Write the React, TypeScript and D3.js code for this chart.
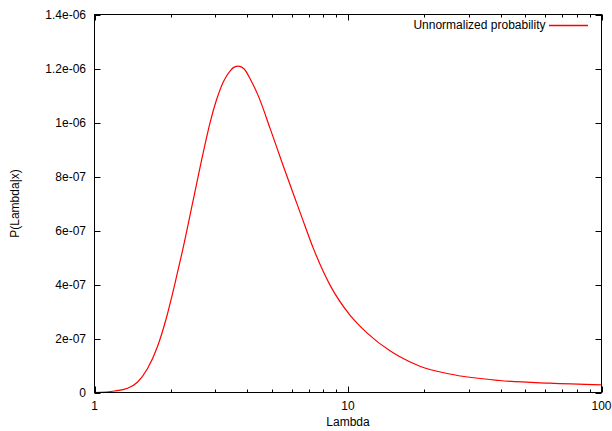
import React from "react";
import * as d3 from "d3";

const lambdas = [1, 1.2, 1.349, 1.477, 1.617, 1.771, 1.916, 2.065, 2.227, 2.446, 2.686, 2.862, 3.021, 3.228, 3.43, 3.557, 3.7, 3.896, 4.114, 4.436, 4.932, 5.564, 6.281, 6.573, 7.3, 8.494, 10.18, 11.85, 14.64, 16.02, 19.21, 25.2, 39.7, 62.4, 100];
const probs = [0, 0.056e-7, 0.159e-7, 0.381e-7, 0.878e-7, 1.693e-7, 2.722e-7, 3.937e-7, 5.274e-7, 7.085e-7, 8.896e-7, 10.026e-7, 10.804e-7, 11.519e-7, 11.915e-7, 12.05e-7, 12.089e-7, 11.98e-7, 11.611e-7, 10.967e-7, 9.774e-7, 8.37e-7, 7.004e-7, 6.496e-7, 5.337e-7, 3.978e-7, 2.867e-7, 2.219e-7, 1.544e-7, 1.322e-7, 0.974e-7, 0.685e-7, 0.444e-7, 0.344e-7, 0.285e-7];
const yTicks = [0, 2e-7, 4e-7, 6e-7, 8e-7, 1e-6, 1.2e-6, 1.4e-6];
const yTickLabels = ["0", "2e-07", "4e-07", "6e-07", "8e-07", "1e-06", "1.2e-06", "1.4e-06"];
const xMajor = [1, 10, 100];
const xMajorLabels = ["1", "10", "100"];
const xMinor = [2, 3, 4, 5, 6, 7, 8, 9, 20, 30, 40, 50, 60, 70, 80, 90];
const seriesName = "Unnormalized probability";

const W = 612, H = 431;
const L = 94.5, R = 601.5, T = 14.5, B = 392.5;
const font = "'Liberation Sans', Arial, Helvetica, sans-serif";

export default function App() {
  const x = d3.scaleLog().domain([1, 100]).range([L, R]);
  const y = d3.scaleLinear().domain([0, 1.4e-6]).range([B, T]);
  const pts: [number, number][] = lambdas.map((l, i) => [x(l), y(probs[i])]);
  const line = d3.line().curve(d3.curveMonotoneX)(pts) || "";
  const maj = 6, min = 3;
  return (
    <div style={{ position: "absolute", left: 0, top: 0 }}>
      <svg width={W} height={H} style={{ display: "block", background: "#fff" }}>
        <path d={line} fill="none" stroke="#ff0000" strokeWidth={1.2} />
        <rect x={L} y={T} width={R - L} height={B - T} fill="none" stroke="#000" strokeWidth={1} />
        {yTicks.map((t, i) => (
          <g key={"y" + i}>
            <line x1={L} x2={L + maj} y1={Math.round(y(t)) + 0.5} y2={Math.round(y(t)) + 0.5} stroke="#000" />
            <line x1={R} x2={R - maj} y1={Math.round(y(t)) + 0.5} y2={Math.round(y(t)) + 0.5} stroke="#000" />
            <text x={86} y={y(t)} dy="0.35em" textAnchor="end" fontFamily={font} fontSize={12} fill="#000">{yTickLabels[i]}</text>
          </g>
        ))}
        {xMajor.map((t, i) => (
          <g key={"x" + i}>
            <line x1={Math.round(x(t)) + 0.5} x2={Math.round(x(t)) + 0.5} y1={B} y2={B - maj} stroke="#000" />
            <line x1={Math.round(x(t)) + 0.5} x2={Math.round(x(t)) + 0.5} y1={T} y2={T + maj} stroke="#000" />
            <text x={x(t)} y={409.5} textAnchor="middle" fontFamily={font} fontSize={12} fill="#000">{xMajorLabels[i]}</text>
          </g>
        ))}
        {xMinor.map((t, i) => (
          <g key={"m" + i}>
            <line x1={Math.round(x(t)) + 0.5} x2={Math.round(x(t)) + 0.5} y1={B} y2={B - min} stroke="#000" />
            <line x1={Math.round(x(t)) + 0.5} x2={Math.round(x(t)) + 0.5} y1={T} y2={T + min} stroke="#000" />
          </g>
        ))}
        <text x={(L + R) / 2} y={426} textAnchor="middle" fontFamily={font} fontSize={12} fill="#000">Lambda</text>
        <text transform={`translate(19,${(T + B) / 2}) rotate(-90)`} textAnchor="middle" fontFamily={font} fontSize={12} fill="#000">P(Lambda|x)</text>
        <text x={545.5} y={25} dy="0.35em" textAnchor="end" fontFamily={font} fontSize={12} fill="#000">{seriesName}</text>
        <line x1={549} x2={588} y1={25.5} y2={25.5} stroke="#ff0000" strokeWidth={1.5} />
      </svg>
    </div>
  );
}
